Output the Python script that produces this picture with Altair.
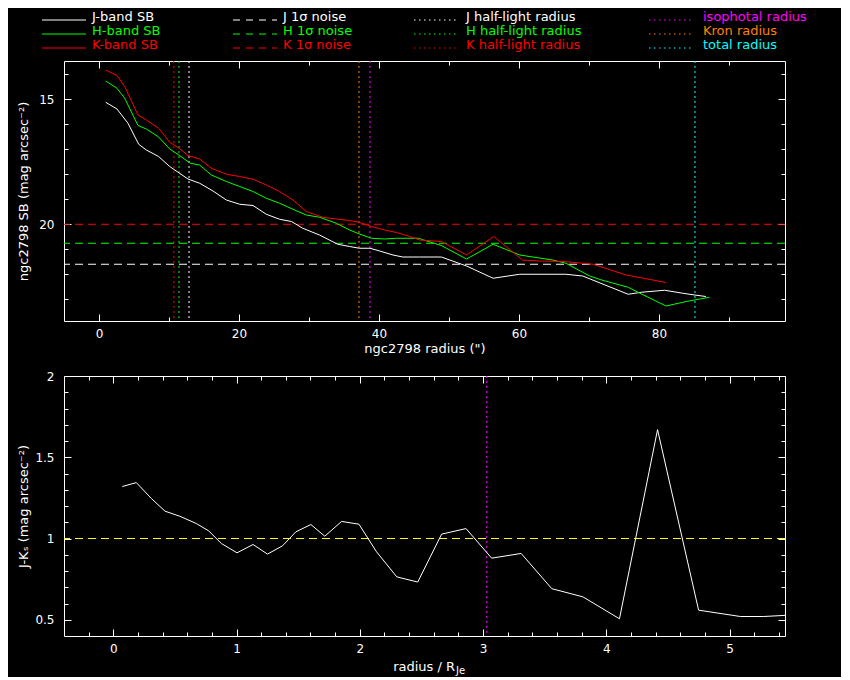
import altair as alt
import pandas as pd

# ---------------- data ----------------
# surface-brightness profiles: radius (arcsec) and SB (mag arcsec^-2)
j_radius = [0.95, 2.57, 4.14, 5.67, 6.76, 8.52, 10.1, 11.14, 12.71, 14.38,
            16.29, 18.19, 20.1, 22.0, 23.9, 25.8, 27.5, 29.1, 31.5, 34.1,
            35.8, 37.2, 38.7, 40.1, 42.0, 43.4, 45.8, 48.9, 52.5, 56.3,
            60.1, 66.7, 69.1, 75.6, 77.5, 80.8, 83.4, 85.1, 86.7]
j_sb = [15.12, 15.39, 15.96, 16.8, 17.03, 17.29, 17.69, 17.89, 18.19, 18.36,
        18.67, 19.03, 19.2, 19.25, 19.6, 19.8, 19.89, 20.16, 20.43, 20.8,
        20.89, 20.96, 20.96, 21.07, 21.23, 21.31, 21.31, 21.31, 21.67, 22.16,
        22.0, 22.0, 22.07, 22.8, 22.72, 22.64, 22.76, 22.83, 22.89]

h_radius = [0.95, 2.57, 3.67, 5.57, 6.76, 8.52, 10.1, 11.5, 13.05, 14.38,
            16.05, 18.19, 20.1, 22.0, 23.9, 25.8, 27.7, 29.6, 31.5, 33.9,
            35.8, 37.2, 38.9, 40.8, 42.5, 45.6, 48.9, 52.5, 56.3, 60.1,
            64.8, 66.7, 70.1, 71.8, 75.6, 77.2, 81.0, 83.9, 87.2]
h_sb = [14.27, 14.56, 14.96, 16.05, 16.19, 16.51, 16.99, 17.25, 17.56, 17.63,
        18.03, 18.29, 18.49, 18.69, 18.96, 19.16, 19.4, 19.63, 19.72, 19.96,
        20.23, 20.39, 20.56, 20.59, 20.56, 20.56, 20.85, 21.39, 20.8, 21.23,
        21.43, 21.56, 22.07, 22.23, 22.52, 22.75, 23.27, 23.09, 22.92]

k_radius = [0.95, 2.57, 3.67, 5.57, 6.76, 8.52, 10.1, 11.29, 12.71, 14.38,
            16.05, 18.19, 20.1, 22.0, 23.9, 25.8, 27.7, 29.6, 31.98, 33.9,
            35.8, 37.2, 38.9, 40.8, 42.5, 44.4, 45.8, 48.9, 52.5, 56.4,
            60.5, 62.95, 66.3, 70.6, 75.3, 81.0]
k_sb = [13.83, 14.05, 14.49, 15.63, 15.83, 16.16, 16.72, 16.93, 17.25, 17.39,
        17.76, 18.0, 18.09, 18.2, 18.43, 18.69, 19.03, 19.49, 19.72, 19.79,
        19.85, 19.93, 20.09, 20.23, 20.33, 20.49, 20.63, 20.69, 21.23, 20.49,
        21.43, 21.47, 21.49, 21.6, 22.03, 22.33]

# 1-sigma noise levels
noise_band = ["J", "H", "K"]
noise_level = [21.6, 20.76, 20.0]

# characteristic radii (arcsec)
radius_name = ["K half-light", "H half-light", "J half-light", "Kron", "isophotal", "total"]
radius_value = [10.7, 11.43, 12.86, 37.14, 38.71, 85.14]

# J-Ks colour profile vs radius / R_Je
jk_x = [0.073, 0.187, 0.309, 0.42, 0.54, 0.674, 0.774, 0.877, 1.004, 1.134,
        1.251, 1.373, 1.481, 1.603, 1.716, 1.852, 1.993, 2.136, 2.30, 2.47,
        2.664, 2.862, 3.07, 3.309, 3.558, 3.81, 4.107, 4.416, 4.749, 5.088,
        5.277, 5.45]
jk_colour = [1.32, 1.344, 1.246, 1.168, 1.137, 1.092, 1.047, 0.969, 0.912, 0.963,
             0.904, 0.955, 1.041, 1.086, 1.014, 1.105, 1.088, 0.918, 0.764, 0.732,
             1.027, 1.061, 0.879, 0.908, 0.691, 0.641, 0.506, 1.67, 0.559, 0.52,
             0.52, 0.527]
colour_reference = [1.0]
iso_over_rje = [3.03]

# tick values
top_x_major = [0, 20, 40, 60, 80]
top_x_minor = [10, 30, 50, 70, 90]
top_y_major = [15, 20]
top_y_minor = [14, 16, 17, 18, 19, 21, 22, 23]
bot_x_major = [0, 1, 2, 3, 4, 5]
bot_x_minor = [-0.2, 0.2, 0.4, 0.6, 0.8, 1.2, 1.4, 1.6, 1.8, 2.2, 2.4, 2.6, 2.8,
               3.2, 3.4, 3.6, 3.8, 4.2, 4.4, 4.6, 4.8, 5.2, 5.4]
bot_y_major = [0.5, 1, 1.5, 2]
bot_y_minor = [0.6, 0.7, 0.8, 0.9, 1.1, 1.2, 1.3, 1.4, 1.6, 1.7, 1.8, 1.9]

legend_labels = ["J-band SB", "H-band SB", "K-band SB",
                 "J 1σ noise", "H 1σ noise", "K 1σ noise",
                 "J half-light radius", "H half-light radius", "K half-light radius",
                 "isophotal radius", "Kron radius", "total radius"]

# ---------------- styles / layout ----------------
WHITE, GREEN, RED = "#ffffff", "#00ff00", "#ff0000"
MAGENTA, ORANGE, CYAN, YELLOW = "#ff00ff", "#ff8000", "#00ffff", "#ffff00"
band_colour = {"J": WHITE, "H": GREEN, "K": RED}
radius_colours = [RED, GREEN, WHITE, ORANGE, MAGENTA, CYAN]
legend_colours = [WHITE, GREEN, RED] * 3 + [MAGENTA, ORANGE, CYAN]
legend_styles = ["solid"] * 3 + ["dashed"] * 3 + ["dotted"] * 6
FONT = "DejaVu Sans"
W, H = 721, 260
MAJ, MIN = 7, 4
LABEL_EXPR = "format(datum.value, '~g')"

prof = pd.concat([
    pd.DataFrame({"r": j_radius, "sb": j_sb, "band": "J"}),
    pd.DataFrame({"r": h_radius, "sb": h_sb, "band": "H"}),
    pd.DataFrame({"r": k_radius, "sb": k_sb, "band": "K"}),
], ignore_index=True)
prof["colour"] = prof["band"].map(band_colour)
noise = pd.DataFrame({"band": noise_band, "level": noise_level})
noise["colour"] = noise["band"].map(band_colour)
radii = pd.DataFrame({"name": radius_name, "r": radius_value, "colour": radius_colours})
jk = pd.DataFrame({"x": jk_x, "c": jk_colour})

# legend table (layout positions relative to the upper plot area)
col_x0 = [-22, 169, 350, 585]
col_text = [28, 219, 402, 639]
row_y = [-41, -27, -13]
leg_rows = []
for i, lab in enumerate(legend_labels):
    c, rr = divmod(i, 3)
    leg_rows.append({"label": lab, "colour": legend_colours[i], "style": legend_styles[i],
                     "x0": col_x0[c], "x1": col_x0[c] + 44, "xt": col_text[c],
                     "y": row_y[rr], "yt": row_y[rr] + 1})
legend = pd.DataFrame(leg_rows)


def axis(orient, values, length, title=None, labels=False, **extra):
    kw = dict(orient=orient, values=values, tickSize=length, offset=-length,
              domain=False, grid=False, labels=labels, labelFlush=False, title=title)
    kw.update(extra)
    return alt.Axis(**kw)


def axis_layers(data, xf, yf, xs, ys, xmaj, xmin, ymaj, ymin, xtitle, ytitle):
    pairs = [
        (axis("bottom", xmaj, MAJ, xtitle, True, labelPadding=7, minExtent=26,
              maxExtent=26, titlePadding=2, labelExpr=LABEL_EXPR),
         axis("left", ymaj, MAJ, ytitle, True, labelPadding=10, minExtent=30,
              maxExtent=30, titlePadding=11, labelExpr=LABEL_EXPR)),
        (axis("bottom", xmin, MIN), axis("left", ymin, MIN)),
        (axis("top", xmaj, MAJ), axis("right", ymaj, MAJ)),
        (axis("top", xmin, MIN), axis("right", ymin, MIN)),
    ]
    out = []
    for ax_x, ax_y in pairs:
        out.append(alt.Chart(data).mark_point(opacity=0, size=1).encode(
            x=alt.X(xf, scale=xs, axis=ax_x), y=alt.Y(yf, scale=ys, axis=ax_y)))
    return out


# ---------------- upper panel ----------------
xs_top = alt.Scale(domain=[-5, 98], nice=False, zero=False)
ys_top = alt.Scale(domain=[13.47, 23.87], reverse=True, nice=False, zero=False)

lines = alt.Chart(prof).mark_line(strokeWidth=1).encode(
    x=alt.X("r:Q", scale=xs_top, axis=None),
    y=alt.Y("sb:Q", scale=ys_top, axis=None),
    color=alt.Color("colour:N", scale=None),
    detail="band:N",
    order="r:Q",
)
noise_rules = alt.Chart(noise).mark_rule(strokeWidth=1, strokeDash=[8, 5]).encode(
    y=alt.Y("level:Q", scale=ys_top, axis=None),
    color=alt.Color("colour:N", scale=None),
)
radius_rules = alt.Chart(radii).mark_rule(strokeWidth=1, strokeDash=[2, 3]).encode(
    x=alt.X("r:Q", scale=xs_top, axis=None),
    color=alt.Color("colour:N", scale=None),
)

leg_layers = []
for style, dash in [("solid", None), ("dashed", [7, 6]), ("dotted", [1.5, 3.5])]:
    mk = dict(strokeWidth=1)
    if dash:
        mk["strokeDash"] = dash
    leg_layers.append(alt.Chart(legend).transform_filter(
        alt.datum.style == style).mark_rule(**mk).encode(
        x=alt.X("x0:Q", scale=None), x2="x1:Q", y=alt.Y("y:Q", scale=None),
        color=alt.Color("colour:N", scale=None)))
leg_layers.append(alt.Chart(legend).mark_text(
    font=FONT, fontSize=13, align="left", baseline="alphabetic").encode(
    x=alt.X("xt:Q", scale=None), y=alt.Y("yt:Q", scale=None), text="label:N",
    color=alt.Color("colour:N", scale=None)))

top = alt.layer(
    radius_rules, noise_rules, lines,
    *axis_layers(prof, "r:Q", "sb:Q", xs_top, ys_top, top_x_major, top_x_minor,
                 top_y_major, top_y_minor, 'ngc2798 radius (")',
                 "ngc2798 SB (mag arcsec⁻²)"),
    *leg_layers,
).resolve_axis(x="independent", y="independent").properties(width=W, height=H)

# ---------------- lower panel ----------------
xs_bot = alt.Scale(domain=[-0.4, 5.45], nice=False, zero=False)
ys_bot = alt.Scale(domain=[0.4, 2.0], nice=False, zero=False)

jk_line = alt.Chart(jk).mark_line(strokeWidth=1, color=WHITE, clip=True).encode(
    x=alt.X("x:Q", scale=xs_bot, axis=None),
    y=alt.Y("c:Q", scale=ys_bot, axis=None),
    order="x:Q",
)
ref_rule = alt.Chart(pd.DataFrame({"c": colour_reference})).mark_rule(
    strokeWidth=1, strokeDash=[8, 5], color=YELLOW).encode(
    y=alt.Y("c:Q", scale=ys_bot, axis=None))
iso_rule = alt.Chart(pd.DataFrame({"x": iso_over_rje})).mark_rule(
    strokeWidth=1, strokeDash=[2, 3], color=MAGENTA).encode(
    x=alt.X("x:Q", scale=xs_bot, axis=None))

xt_main = alt.Chart(pd.DataFrame({"t": ["radius / R"]})).mark_text(
    font=FONT, fontSize=13, align="right", baseline="alphabetic", color=WHITE).encode(
    x=alt.value(391), y=alt.value(295), text="t:N")
xt_sub = alt.Chart(pd.DataFrame({"t": ["Je"]})).mark_text(
    font=FONT, fontSize=10, align="left", baseline="alphabetic", color=WHITE).encode(
    x=alt.value(392), y=alt.value(298), text="t:N")

bottom = alt.layer(
    ref_rule, iso_rule, jk_line,
    *axis_layers(jk, "x:Q", "c:Q", xs_bot, ys_bot, bot_x_major, bot_x_minor,
                 bot_y_major, bot_y_minor, None, "J-Kₛ (mag arcsec⁻²)"),
    xt_main, xt_sub,
).resolve_axis(x="independent", y="independent").properties(width=W, height=H)

chart = alt.vconcat(top, bottom, spacing=13).properties(
    padding={"left": 8, "top": 2, "right": 33, "bottom": 0},
    background="black",
).configure_view(stroke=WHITE, strokeWidth=1).configure_axis(
    labelColor=WHITE, titleColor=WHITE, tickColor=WHITE, tickWidth=1,
    labelFont=FONT, titleFont=FONT, labelFontSize=12, titleFontSize=13,
    titleFontWeight="normal",
)

chart.save("out.html", embed_options={"renderer": "svg", "actions": False})
